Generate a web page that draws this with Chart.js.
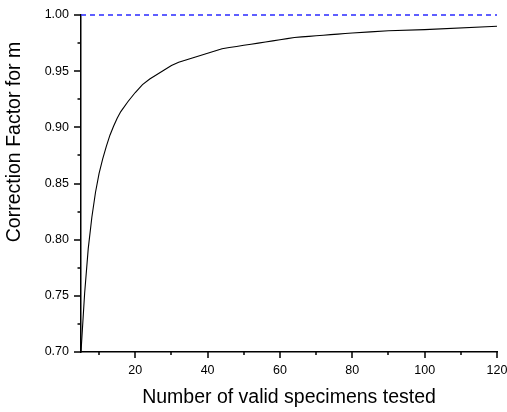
<!DOCTYPE html>
<html>
<head>
<meta charset="UTF-8" />
<title>Correction Factor for m</title>
<script src="https://cdn.jsdelivr.net/npm/chart.js"></script>
<style>
  body { margin: 0; background: #fff; }
  .grafico { width: 507px; height: 412px; }
</style>
</head>
<body>
<div class="grafico"><canvas id="factor"></canvas></div>
<script>
// unbiasing factor for the Weibull modulus vs. number of specimens
const specimens = [5, 6, 7, 8, 9, 10, 11, 12, 13, 14, 15, 16, 18, 20, 22, 24, 26, 28, 30,
  32, 34, 36, 38, 40, 42, 44, 46, 48, 50, 52, 54, 56, 58, 60, 62, 64, 66, 68, 70,
  72, 74, 76, 78, 80, 85, 90, 100, 120];
const correction = [0.700, 0.752, 0.792, 0.820, 0.842, 0.859, 0.872, 0.883, 0.893, 0.901,
  0.908, 0.914, 0.923, 0.931, 0.938, 0.943, 0.947, 0.951, 0.955, 0.958, 0.960, 0.962,
  0.964, 0.966, 0.968, 0.970, 0.971, 0.972, 0.973, 0.974, 0.975, 0.976, 0.977, 0.978,
  0.979, 0.980, 0.9805, 0.981, 0.9815, 0.982, 0.9825, 0.983, 0.9835, 0.984, 0.985, 0.986,
  0.987, 0.990];

// reference line at 1.00
const limitX = [5, 120];
const limitY = [1.00, 1.00];

const xLabelTicks = [20, 40, 60, 80, 100, 120];
const xMinorTicks = [10, 30, 50, 70, 90, 110];
const yLabelTicks = [0.70, 0.75, 0.80, 0.85, 0.90, 0.95, 1.00];
const yMinorTicks = [0.725, 0.775, 0.825, 0.875, 0.925, 0.975];

const yTitle = 'Correction Factor for m';
const fuente = 'Liberation Sans, Arial, sans-serif';

// tick marks drawn by hand: long for labelled ticks, short for the ones between
const marcas = {
  id: 'marcas',
  afterDraw(chart) {
    const { ctx, scales: { x, y } } = chart;
    ctx.save();
    ctx.strokeStyle = '#000';
    ctx.lineWidth = 1.5;
    ctx.beginPath();
    xLabelTicks.forEach(v => {
      const px = Math.round(x.getPixelForValue(v));
      ctx.moveTo(px, y.bottom); ctx.lineTo(px, y.bottom + 6);
    });
    xMinorTicks.forEach(v => {
      const px = Math.round(x.getPixelForValue(v));
      ctx.moveTo(px, y.bottom); ctx.lineTo(px, y.bottom + 3);
    });
    yLabelTicks.forEach(v => {
      const py = Math.round(y.getPixelForValue(v));
      ctx.moveTo(x.left, py); ctx.lineTo(x.left - 7, py);
    });
    yMinorTicks.forEach(v => {
      const py = Math.round(y.getPixelForValue(v));
      ctx.moveTo(x.left, py); ctx.lineTo(x.left - 3.5, py);
    });
    ctx.stroke();

    // vertical axis title, sits a bit above the middle of the axis
    ctx.fillStyle = '#000';
    ctx.font = '19.5px ' + fuente;
    ctx.textAlign = 'center';
    ctx.textBaseline = 'middle';
    ctx.translate(15, 142);
    ctx.rotate(-Math.PI / 2);
    ctx.fillText(yTitle, 0, 0);
    ctx.restore();
  }
};

new Chart(document.getElementById('factor'), {
  type: 'scatter',
  data: {
    datasets: [{
      data: specimens.map((n, i) => ({ x: n, y: correction[i] })),
      showLine: true,
      borderColor: '#000',
      borderWidth: 1.1,
      pointRadius: 0,
      tension: 0
    }, {
      data: limitX.map((n, i) => ({ x: n, y: limitY[i] })),
      showLine: true,
      borderColor: '#2a2aff',
      borderWidth: 1.3,
      borderDash: [5, 4],
      pointRadius: 0,
      clip: false
    }]
  },
  options: {
    responsive: true,
    maintainAspectRatio: false,
    animation: false,
    layout: { padding: { top: 15, right: 10, left: 0, bottom: 0 } },
    plugins: {
      legend: { display: false },
      tooltip: { enabled: false }
    },
    scales: {
      x: {
        type: 'linear',
        min: 5,
        max: 120,
        afterBuildTicks: s => { s.ticks = xLabelTicks.map(v => ({ value: v })); },
        afterFit: s => { s.height = 60; s.paddingLeft = 0; s.paddingRight = 0; },
        grid: { display: true, drawOnChartArea: false, drawTicks: false },
        border: { display: true, color: '#000', width: 1.5 },
        ticks: { color: '#000', font: { family: fuente, size: 12.5 }, padding: 11, maxRotation: 0 },
        title: {
          display: true,
          text: 'Number of valid specimens tested',
          color: '#000',
          font: { family: fuente, size: 19.5 },
          padding: { top: 0, bottom: 3 }
        }
      },
      y: {
        type: 'linear',
        min: 0.70,
        max: 1.00,
        afterBuildTicks: s => { s.ticks = yLabelTicks.map(v => ({ value: v })); },
        afterFit: s => { s.width = 81; s.paddingTop = 0; s.paddingBottom = 0; },
        grid: { display: true, drawOnChartArea: false, drawTicks: false },
        border: { display: true, color: '#000', width: 1.5 },
        ticks: {
          color: '#000',
          font: { family: fuente, size: 12.5 },
          padding: 12,
          callback: v => v.toFixed(2)
        }
      }
    }
  },
  plugins: [marcas]
});
</script>
</body>
</html>
